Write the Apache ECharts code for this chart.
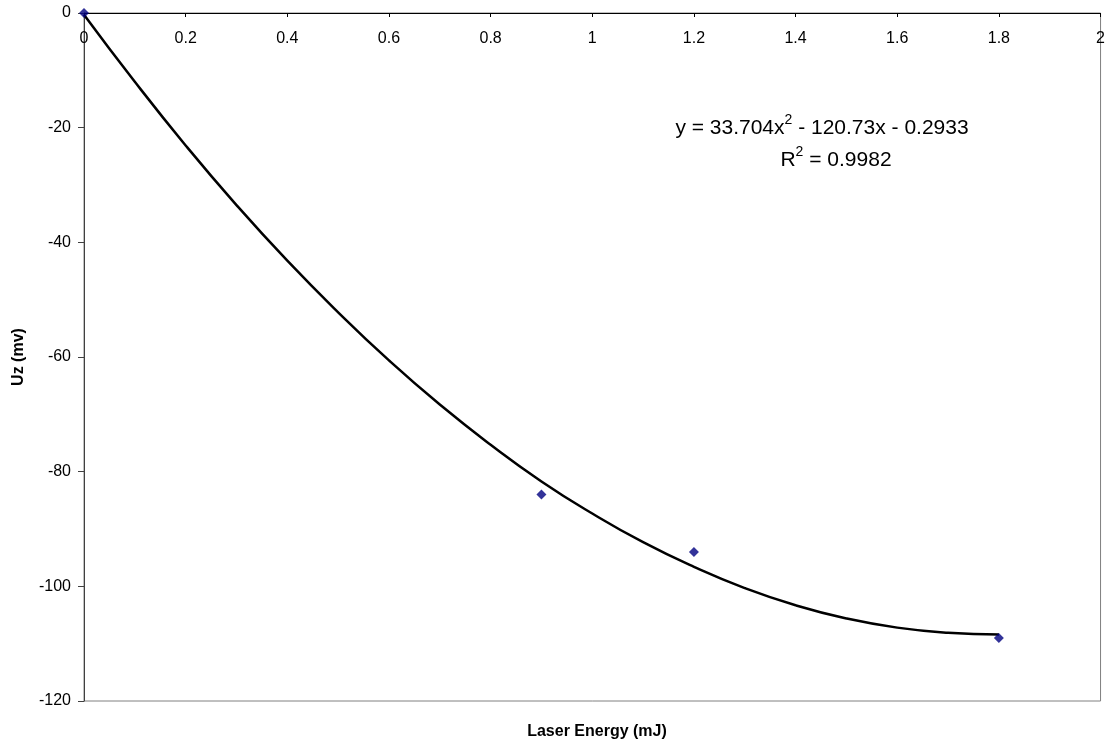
<!DOCTYPE html>
<html>
<head>
<meta charset="utf-8">
<script src="https://cdn.jsdelivr.net/npm/echarts@6/dist/echarts.min.js"></script>
<style>
  html, body { margin: 0; padding: 0; background: #fff; }
  #chart { width: 1108px; height: 744px; }
</style>
</head>
<body>
<div id="chart"></div>
<script>
// measured points
const energy = [0, 0.9, 1.2, 1.8]
const uz = [0, -84, -94, -109]

// polynomial trendline
const trendX = [0, 0.1, 0.2, 0.3, 0.4, 0.5, 0.6, 0.7, 0.8, 0.9, 1.0, 1.1, 1.2, 1.3, 1.4, 1.5, 1.6, 1.7, 1.8]
const trendY = [-0.3, -12.0, -23.1, -33.5, -43.2, -52.2, -60.6, -68.3, -75.3, -81.7, -87.3, -92.3, -96.6, -100.3, -103.3, -105.6, -107.2, -108.1, -108.4]

const xTicks = [0, 0.2, 0.4, 0.6, 0.8, 1, 1.2, 1.4, 1.6, 1.8, 2]
const yTicks = [-120, -100, -80, -60, -40, -20, 0]

const fontFamily = 'Liberation Sans, Arial, sans-serif'

const eqRich = {
  t: { fontSize: 21, fontFamily: fontFamily, fill: '#000', lineHeight: 26, verticalAlign: 'bottom' },
  s: { fontSize: 14, fontFamily: fontFamily, fill: '#000', lineHeight: 26, verticalAlign: 'top' }
}

let chart = echarts.init(document.getElementById('chart'))
chart.setOption({
  animation: false,
  backgroundColor: '#fff',
  textStyle: { fontFamily: fontFamily },
  grid: {
    left: 84, right: 7, top: 13, bottom: 43,
    show: true, borderColor: '#808080', borderWidth: 1
  },
  title: {
    text: 'Laser Energy (mJ)',
    left: 592, top: 719,
    textAlign: 'center',
    textStyle: { fontSize: 16, fontWeight: 'bold', color: '#000', fontFamily: fontFamily }
  },
  xAxis: {
    type: 'value',
    position: 'top',
    min: xTicks[0], max: xTicks[xTicks.length - 1], interval: 0.2,
    axisLine: { show: true, onZero: false, lineStyle: { color: '#000', width: 1 } },
    axisTick: { show: true, inside: true, length: 4, lineStyle: { color: '#000' } },
    axisLabel: {
      inside: true, margin: 18, fontSize: 16, color: '#000',
      showMaxLabel: true, showMinLabel: true,
      formatter: v => String(Math.round(v * 10) / 10)
    },
    splitLine: { show: false }
  },
  yAxis: {
    type: 'value',
    min: yTicks[0], max: yTicks[yTicks.length - 1], interval: 20,
    name: 'Uz (mv)',
    nameLocation: 'middle',
    nameGap: 57,
    nameTextStyle: { fontSize: 16, fontWeight: 'bold', color: '#000' },
    axisLine: { show: true, lineStyle: { color: '#404040', width: 1 } },
    axisTick: { show: true, inside: false, length: 6, lineStyle: { color: '#404040' } },
    axisLabel: { margin: 13, fontSize: 16, color: '#000' },
    splitLine: { show: false }
  },
  graphic: [
    {
      type: 'text',
      style: {
        x: 822, y: 113, align: 'center',
        text: '{t|y = 33.704x}{s|2}{t| - 120.73x - 0.2933}',
        rich: eqRich
      }
    },
    {
      type: 'text',
      style: {
        x: 836, y: 145, align: 'center',
        text: '{t|R}{s|2}{t| = 0.9982}',
        rich: eqRich
      }
    }
  ],
  series: [
    {
      name: 'Trend',
      type: 'line',
      data: trendX.map((x, i) => [x, trendY[i]]),
      smooth: true,
      showSymbol: false,
      symbol: 'none',
      lineStyle: { color: '#000', width: 2.5 },
      z: 2
    },
    {
      name: 'Uz',
      type: 'scatter',
      data: energy.map((x, i) => [x, uz[i]]),
      symbol: 'diamond',
      symbolSize: 10,
      itemStyle: { color: '#000080' },
      z: 3
    }
  ]
})
</script>
</body>
</html>
